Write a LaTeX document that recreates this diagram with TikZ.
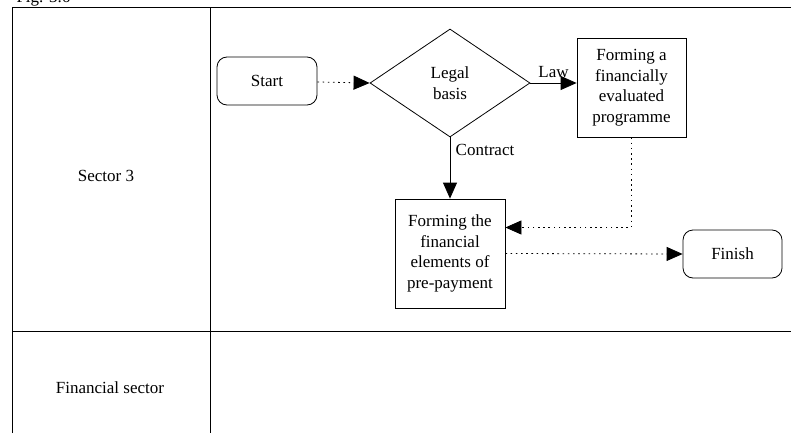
\documentclass[tikz,border=0pt]{standalone}
\usepackage{fontspec}
\setmainfont{Liberation Serif}
\usetikzlibrary{shapes.geometric,arrows.meta}

\tikzset{
	every node/.style={font=\fontsize{17}{20.5}\selectfont},
	procbox/.style={draw, line width=0.8pt, align=center, inner sep=0pt},
	termbox/.style={draw, line width=0.8pt, rounded corners=10pt, align=center},
	decision/.style={draw, diamond, line width=0.8pt, align=center, inner sep=0pt, minimum width=160pt, minimum height=108pt},
	flow/.style={line width=0.8pt, -{Triangle[length=16pt,width=14pt]}},
	dotflow/.style={flow, dash pattern=on 1.6pt off 3.6pt}
}

\begin{document}
\begin{tikzpicture}[x=1pt, y=-1pt]
\clip (0, 0) rectangle (791, 433);

% lanes
\draw[line width=1pt] (12, 433) -- (12, 8) -- (791, 8);
\draw[line width=1pt] (210, 8) -- (210, 433);
\draw[line width=1pt] (12, 331) -- (791, 331);

\node[anchor=base west] (fig) at (13, 2.5) {Fig. 3.6};
\node (sec3) at (106, 176) {Sector 3};
\node (finsec) at (110, 388) {Financial sector};

% flow
\node[termbox, minimum width=100pt, minimum height=48pt] (start) at (267, 81) {Start};
\node[decision] (legal) at (450, 83) {Legal\\basis};
\node[procbox, minimum width=109pt, minimum height=99pt] (prog) at (631.5, 87.5) {Forming a\\financially\\evaluated\\programme};
\node[procbox, minimum width=110pt, minimum height=109pt] (prepay) at (450, 253.5) {Forming the\\financial\\elements of\\pre-payment};
\node[termbox, minimum width=99pt, minimum height=48pt] (finish) at (732.5, 254) {Finish};

\draw[dotflow] (start) -- (legal.west);
\draw[flow] (legal.east) -- node[above, yshift=2pt] {Law} (legal.east -| prog.west);
\draw[flow] (legal.south) -- node[pos=0.2, right, xshift=2pt] {Contract} (prepay.north);
\draw[dotflow] (prog.south) |- ([yshift=26pt]prepay.east);
\draw[dotflow] (prepay.east) -- (finish.west);

\end{tikzpicture}
\end{document}
